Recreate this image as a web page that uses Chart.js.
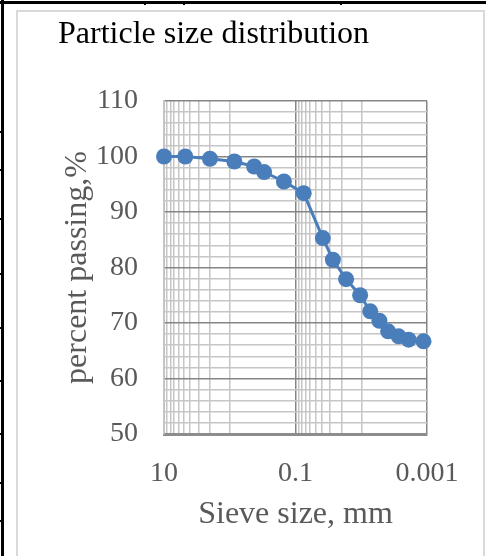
<!DOCTYPE html>
<html>
<head>
<meta charset="utf-8">
<script src="https://cdn.jsdelivr.net/npm/chart.js@4.4.1/dist/chart.umd.min.js"></script>
<style>
  html, body { margin: 0; padding: 0; background: #fff; }
  body { width: 490px; height: 556px; position: relative; overflow: hidden; }
  #wrap { position: absolute; left: 0; top: 0; width: 490px; height: 556px; }
  .frame { position: absolute; left: 16px; top: 10px; width: 469px; height: 560px;
           border: 2px solid #d9d9d9; box-sizing: border-box; }
  .blk { position: absolute; background: #000; }
</style>
</head>
<body>
<div class="frame"></div>
<div class="blk" style="left:0;top:1px;width:486px;height:3px"></div>
<div class="blk" style="left:1px;top:0;width:3px;height:556px"></div>
<div class="blk" style="left:144px;top:1px;width:2px;height:4px"></div>
<div class="blk" style="left:183px;top:1px;width:2px;height:4px"></div>
<div class="blk" style="left:340px;top:1px;width:2px;height:4px"></div>
<div class="blk" style="left:0;top:131px;width:4px;height:2px"></div>
<div class="blk" style="left:0;top:169px;width:4px;height:2px"></div>
<div class="blk" style="left:0;top:218px;width:4px;height:2px"></div>
<div class="blk" style="left:0;top:273px;width:4px;height:2px"></div>
<div class="blk" style="left:0;top:327px;width:4px;height:2px"></div>
<div class="blk" style="left:0;top:380px;width:4px;height:2px"></div>
<div class="blk" style="left:0;top:433px;width:4px;height:2px"></div>
<div class="blk" style="left:0;top:482px;width:4px;height:2px"></div>
<div class="blk" style="left:0;top:520px;width:4px;height:2px"></div>
<div id="wrap"><canvas id="c" width="490" height="556"></canvas></div>
<script>
// ---- data ----
const sieveSizes = [10, 4.75, 2.0, 0.85, 0.425, 0.3, 0.15, 0.075, 0.0384, 0.027, 0.017, 0.0104, 0.0073, 0.0053, 0.0039, 0.0027, 0.0019, 0.00113];
const percentPassing = [100, 100, 99.6, 99.1, 98.2, 97.2, 95.5, 93.4, 85.3, 81.4, 77.9, 75.0, 72.1, 70.4, 68.5, 67.6, 67.0, 66.7];
const xMajorTicks = [10, 0.1, 0.001];
const xTickLabels = ['10', '0.1', '0.001'];
const xMinorTicks = [9, 8, 7, 6, 5, 4, 3, 2, 1, 0.09, 0.08, 0.07, 0.06, 0.05, 0.04, 0.03, 0.02, 0.01];
const yMin = 50, yMax = 110;
const chartTitle = 'Particle size distribution';
const xTitle = 'Sieve size, mm';
const yTitle = 'percent passing,%';

const serif = "'Liberation Serif', 'Times New Roman', serif";
const points = sieveSizes.map((s, i) => ({ x: s, y: percentPassing[i] }));

new Chart(document.getElementById('c'), {
  type: 'line',
  data: {
    datasets: [{
      data: points,
      borderColor: '#4a7ebb',
      backgroundColor: '#4a7ebb',
      borderWidth: 3,
      pointRadius: 8,
      pointHoverRadius: 8,
      pointBorderWidth: 0,
      tension: 0,
      clip: false
    }]
  },
  options: {
    responsive: false,
    animation: false,
    events: [],
    layout: { padding: { left: 58, right: 63, top: 0, bottom: 0 } },
    plugins: {
      legend: { display: false },
      tooltip: { enabled: false },
      title: {
        display: true,
        text: chartTitle,
        align: 'start',
        color: '#000',
        font: { family: serif, size: 32, weight: 'normal', lineHeight: 1.2 },
        padding: { top: 15, bottom: 47.6 }
      }
    },
    scales: {
      x: {
        type: 'logarithmic',
        reverse: true,
        min: 0.001,
        max: 10,
        afterBuildTicks: (scale) => {
          const vals = xMajorTicks.concat(xMinorTicks);
          scale.ticks = vals.map(v => ({ value: v, major: xMajorTicks.includes(v) }));
        },
        afterFit: (scale) => { scale.height = 122; },
        ticks: {
          autoSkip: false,
          maxRotation: 0,
          padding: 23,
          color: '#595959',
          font: { family: serif, size: 28 },
          callback: (v) => {
            const i = xMajorTicks.indexOf(v);
            return i >= 0 ? xTickLabels[i] : '';
          }
        },
        grid: {
          drawTicks: false,
          color: (ctx) => (ctx.tick && xMajorTicks.includes(ctx.tick.value)) ? '#858585' : '#c6c6c6',
          lineWidth: 1.5
        },
        border: { display: true, color: '#8c8c8c', width: 3 },
        title: {
          display: true,
          text: xTitle,
          color: '#595959',
          font: { family: serif, size: 32, lineHeight: 1.2 },
          padding: { top: 0, bottom: 22 }
        }
      },
      y: {
        type: 'linear',
        min: yMin,
        max: yMax,
        afterFit: (scale) => { scale.width = 106; },
        ticks: {
          stepSize: 2,
          autoSkip: false,
          padding: 26,
          color: '#595959',
          font: { family: serif, size: 28 },
          callback: (v) => (v % 10 === 0 ? String(v) : '')
        },
        grid: {
          drawTicks: false,
          color: (ctx) => (ctx.tick && ctx.tick.value % 10 === 0) ? '#858585' : '#c6c6c6',
          lineWidth: 1.5
        },
        border: { display: true, color: '#c6c6c6', width: 1.5 },
        title: {
          display: true,
          text: yTitle,
          color: '#595959',
          font: { family: serif, size: 32, lineHeight: 1.2 },
          padding: { top: 0, bottom: 0 }
        }
      }
    }
  }
});
</script>
</body>
</html>
